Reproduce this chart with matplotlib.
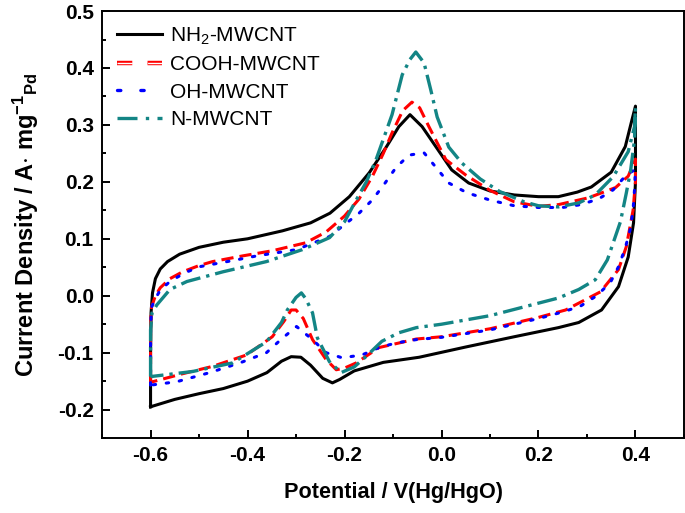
# -*- coding: utf-8 -*-
"""Voltamperometría cíclica de Pd sobre MWCNT funcionalizados."""

import matplotlib
matplotlib.use('Agg')
import matplotlib.pyplot as plt
import matplotlib.patheffects as pe
from matplotlib.lines import Line2D
from matplotlib.ticker import MultipleLocator

plt.rc('font', family='Liberation Sans', size=15)
plt.rc('mathtext', default='regular')

# --- Datos (V vs Hg/HgO, A mg^-1 Pd) ---

v_nh2 = [-0.600, -0.600, -0.599, -0.596, -0.590, -0.580, -0.565, -0.540, -0.500, -0.450,
         -0.400, -0.328, -0.270, -0.230, -0.190, -0.149, -0.114, -0.088, -0.065, -0.040,
         -0.011, 0.021, 0.056, 0.100, 0.150, 0.200, 0.241, 0.280, 0.309, 0.350,
         0.379, 0.391, 0.400, 0.400, 0.400, 0.396, 0.385, 0.365, 0.330, 0.283,
         0.241, 0.150, 0.050, -0.046, -0.120, -0.180, -0.210, -0.225, -0.245, -0.270,
         -0.290, -0.310, -0.330, -0.360, -0.400, -0.450, -0.500, -0.550, -0.600]
i_nh2 = [-0.195, -0.100, -0.030, 0.005, 0.030, 0.047, 0.060, 0.073, 0.085, 0.094,
         0.100, 0.114, 0.128, 0.145, 0.174, 0.216, 0.261, 0.297, 0.318, 0.297,
         0.261, 0.221, 0.198, 0.184, 0.177, 0.174, 0.174, 0.182, 0.191, 0.217,
         0.262, 0.303, 0.333, 0.290, 0.200, 0.128, 0.068, 0.016, -0.025, -0.047,
         -0.056, -0.072, -0.090, -0.108, -0.117, -0.132, -0.147, -0.153, -0.145, -0.122,
         -0.108, -0.107, -0.115, -0.135, -0.150, -0.163, -0.172, -0.182, -0.195]

v_cooh = [-0.600, -0.600, -0.598, -0.590, -0.580, -0.560, -0.534, -0.500, -0.472, -0.410,
          -0.349, -0.280, -0.238, -0.200, -0.170, -0.143, -0.120, -0.102, -0.080, -0.061,
          -0.045, -0.026, 0.009, 0.050, 0.100, 0.150, 0.200, 0.241, 0.303, 0.359,
          0.385, 0.400, 0.400, 0.395, 0.381, 0.365, 0.328, 0.256, 0.200, 0.100,
          0.000, -0.052, -0.129, -0.176, -0.200, -0.217, -0.238, -0.266, -0.285, -0.300,
          -0.310, -0.325, -0.349, -0.402, -0.472, -0.534, -0.600]
i_cooh = [-0.152, -0.050, -0.020, 0.000, 0.014, 0.030, 0.042, 0.053, 0.060, 0.070,
          0.079, 0.093, 0.112, 0.140, 0.170, 0.209, 0.250, 0.286, 0.325, 0.340,
          0.330, 0.297, 0.239, 0.212, 0.185, 0.165, 0.157, 0.160, 0.172, 0.190,
          0.210, 0.240, 0.200, 0.150, 0.086, 0.046, 0.007, -0.025, -0.038, -0.058,
          -0.072, -0.076, -0.091, -0.118, -0.127, -0.130, -0.112, -0.077, -0.040, -0.025,
          -0.025, -0.045, -0.072, -0.104, -0.124, -0.137, -0.152]

v_oh = [-0.600, -0.600, -0.598, -0.590, -0.580, -0.560, -0.530, -0.499, -0.423, -0.381,
        -0.299, -0.231, -0.200, -0.170, -0.143, -0.118, -0.094, -0.067, -0.036, -0.011,
        0.015, 0.052, 0.100, 0.150, 0.200, 0.250, 0.287, 0.324, 0.354, 0.381,
        0.400, 0.398, 0.395, 0.389, 0.379, 0.365, 0.348, 0.320, 0.287, 0.252,
        0.200, 0.100, 0.000, -0.052, -0.094, -0.129, -0.164, -0.205, -0.238, -0.266,
        -0.299, -0.330, -0.361, -0.416, -0.478, -0.546, -0.600]
i_oh = [-0.157, -0.060, -0.020, -0.005, 0.010, 0.025, 0.040, 0.051, 0.063, 0.070,
        0.081, 0.104, 0.125, 0.145, 0.168, 0.196, 0.225, 0.247, 0.251, 0.225,
        0.198, 0.181, 0.168, 0.158, 0.155, 0.155, 0.160, 0.170, 0.186, 0.212,
        0.222, 0.186, 0.151, 0.116, 0.084, 0.051, 0.023, 0.000, -0.018, -0.028,
        -0.040, -0.060, -0.073, -0.077, -0.083, -0.091, -0.104, -0.109, -0.100, -0.077,
        -0.054, -0.076, -0.100, -0.118, -0.135, -0.151, -0.157]

v_n = [-0.600, -0.600, -0.597, -0.587, -0.560, -0.525, -0.451, -0.361, -0.287, -0.231,
       -0.200, -0.176, -0.155, -0.135, -0.102, -0.081, -0.065, -0.053, -0.036, -0.022,
       -0.009, 0.015, 0.042, 0.080, 0.120, 0.170, 0.200, 0.241, 0.283, 0.317,
       0.354, 0.385, 0.398, 0.400, 0.398, 0.390, 0.381, 0.369, 0.342, 0.317,
       0.283, 0.241, 0.200, 0.100, 0.000, -0.052, -0.088, -0.123, -0.156, -0.180,
       -0.207, -0.231, -0.256, -0.266, -0.280, -0.289, -0.300, -0.318, -0.330, -0.361,
       -0.431, -0.513, -0.600]
i_n = [-0.142, -0.060, -0.030, -0.016, 0.011, 0.025, 0.042, 0.060, 0.081, 0.102,
       0.130, 0.168, 0.200, 0.239, 0.318, 0.388, 0.415, 0.428, 0.409, 0.361,
       0.314, 0.261, 0.233, 0.205, 0.183, 0.165, 0.158, 0.156, 0.163, 0.177,
       0.209, 0.253, 0.297, 0.330, 0.274, 0.220, 0.180, 0.130, 0.063, 0.028,
       0.011, -0.004, -0.013, -0.035, -0.050, -0.056, -0.065, -0.080, -0.107, -0.125,
       -0.135, -0.116, -0.074, -0.030, -0.005, 0.005, -0.003, -0.025, -0.047, -0.081,
       -0.118, -0.133, -0.142]

etiquetas = ['NH$_2$-MWCNT', 'COOH-MWCNT', 'OH-MWCNT', 'N-MWCNT']

# --- Figura ---

fig = plt.figure(figsize=(6.85, 5.13), dpi=100)
ax = fig.add_axes([0.149, 0.146, 0.8495, 0.8325])

l1, = ax.plot(v_nh2, i_nh2, color='k', lw=2.2, solid_joinstyle='round')
l2, = ax.plot(v_cooh, i_cooh, color='#FF0000', lw=2.2, dashes=(4, 2))
l3, = ax.plot(v_oh, i_oh, color='#0000FF', lw=2.2, dashes=(0.8, 3.5),
              dash_capstyle='round')
l4, = ax.plot(v_n, i_n, color='#138585', lw=2.4, dashes=(6, 1.8, 1, 1.8))

# Símbolos de leyenda: el de COOH aparece "hueco" en el original
h2 = Line2D([], [], color='white', lw=1.0, dashes=(11, 11),
            path_effects=[pe.Stroke(linewidth=3.2, foreground='#FF0000'), pe.Normal()])
h3 = Line2D([], [], color='#0000FF', lw=2.4, dashes=(1, 6), dash_capstyle='round')
h4 = Line2D([], [], color='#138585', lw=2.4, dashes=(6, 2.5, 1, 2.5))

ax.legend([l1, h2, h3, h4], etiquetas, loc='upper left', frameon=False,
          fontsize=15, handlelength=2.2, handletextpad=0.35, labelspacing=0.4,
          borderaxespad=0.3, borderpad=0.4, bbox_to_anchor=(0.0, 1.0))

ax.set_xlim(-0.7, 0.5)
ax.set_ylim(-0.25, 0.5)
ax.xaxis.set_major_locator(MultipleLocator(0.2))
ax.xaxis.set_minor_locator(MultipleLocator(0.1))
ax.yaxis.set_major_locator(MultipleLocator(0.1))
ax.yaxis.set_minor_locator(MultipleLocator(0.05))
ax.xaxis.set_major_formatter(plt.FuncFormatter(lambda x, p: f'{x:.1f}'))
ax.yaxis.set_major_formatter(plt.FuncFormatter(lambda y, p: f'{y:.1f}'))

ax.tick_params(which='both', direction='in', top=False, right=False, width=1.4)
ax.tick_params(which='major', length=6, labelsize=15, pad=6)
ax.tick_params(which='minor', length=3)
for lab in ax.get_xticklabels() + ax.get_yticklabels():
    lab.set_fontweight('bold')
for s in ax.spines.values():
    s.set_linewidth(1.4)

ax.set_xlabel('Potential / V(Hg/HgO)', fontsize=15.6, fontweight='bold', labelpad=12)
ax.set_ylabel('Current Density / A$\\cdot$ mg$^{-1}$$_{Pd}$', fontsize=17,
              fontweight='bold', labelpad=12)

fig.savefig('out.png', dpi=100)
plt.close()
